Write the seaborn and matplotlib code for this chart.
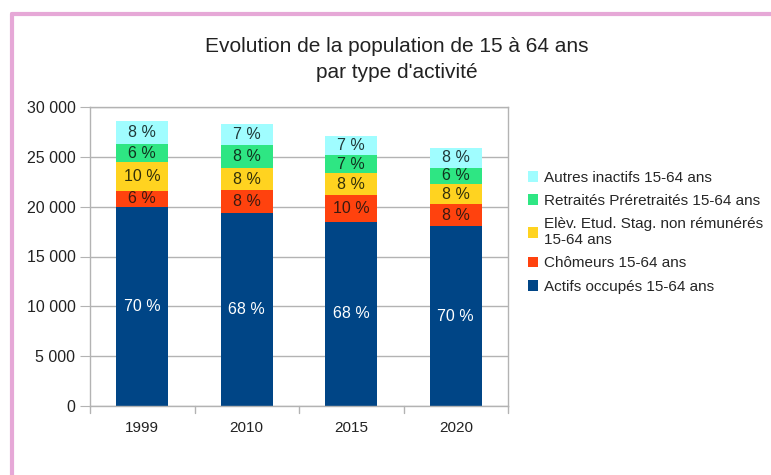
import numpy as np
import pandas as pd
import matplotlib.pyplot as plt
import seaborn as sns
from matplotlib.lines import Line2D
from matplotlib.patches import Patch
from matplotlib.ticker import FuncFormatter, MultipleLocator

# Données
annees = ["1999", "2010", "2015", "2020"]
actifs = [19950, 19400, 18500, 18060]
chomeurs = [1650, 2240, 2640, 2170]
eleves = [2880, 2240, 2200, 2080]
retraites = [1800, 2340, 1880, 1600]
autres = [2320, 2110, 1900, 2010]

series = [
    ("Actifs occupés 15-64 ans", actifs, "#004586", "white"),
    ("Chômeurs 15-64 ans", chomeurs, "#ff420e", "#3a1a10"),
    ("Elèv. Etud. Stag. non rémunérés\n15-64 ans", eleves, "#ffd320", "#33300a"),
    ("Retraités Préretraités 15-64 ans", retraites, "#2ee683", "#10331f"),
    ("Autres inactifs 15-64 ans", autres, "#a0fdff", "#203838"),
]

sns.set_style("white")
plt.rcParams["font.family"] = ["Liberation Sans", "DejaVu Sans"]

fig = plt.figure(figsize=(7.71, 4.75), dpi=100)
ax = fig.add_axes([90 / 771, 1 - 406 / 475, 418 / 771, 299 / 475])

total = np.sum([s[1] for s in series], axis=0)
bas = np.zeros(len(annees))
for nom, vals, couleur, coul_txt in series:
    df = pd.DataFrame({"annee": annees, "val": vals})
    sns.barplot(data=df, x="annee", y="val", color=couleur, width=0.5,
                bottom=bas, ax=ax, saturation=1, linewidth=0)
    cont = ax.containers[-1]
    etiquettes = [f"{round(v / t * 100)} %" for v, t in zip(vals, total)]
    ax.bar_label(cont, labels=etiquettes, label_type="center",
                 color=coul_txt, fontsize=11.5)
    bas = bas + np.array(vals)

ax.set_ylim(0, 30000)
ax.set_xlim(-0.5, 3.5)
ax.yaxis.set_major_locator(MultipleLocator(5000))
ax.yaxis.set_major_formatter(FuncFormatter(lambda v, p: f"{int(v):,}".replace(",", " ")))
ax.grid(axis="y", color="#b3b3b3", linewidth=1)
ax.set_axisbelow(True)
for sp in ax.spines.values():
    sp.set_color("#b3b3b3")
    sp.set_linewidth(1)
ax.set_xlabel("")
ax.set_ylabel("")
ax.set_xticks([0, 1, 2, 3])
ax.set_xticklabels(annees)
ax.tick_params(axis="x", length=0, labelsize=11, pad=11, colors="#222222")
ax.tick_params(axis="y", length=7, color="#b3b3b3", labelsize=11.5, labelcolor="#222222", left=True)
# graduations entre les catégories
for xb in [-0.5, 0.5, 1.5, 2.5, 3.5]:
    ax.plot([xb, xb], [0, -700], color="#b3b3b3", linewidth=1, clip_on=False)

fig.text(0.515, 1 - 47 / 475, "Evolution de la population de 15 à 64 ans",
         ha="center", va="center", fontsize=15, color="#222222")
fig.text(0.515, 1 - 72 / 475, "par type d'activité",
         ha="center", va="center", fontsize=15, color="#222222")

poignees = [Patch(facecolor=c, edgecolor="none", label=n) for n, v, c, t in reversed(series)]
fig.legend(handles=poignees, loc="upper left", bbox_to_anchor=(520 / 771, 1 - 163 / 475),
           frameon=False, fontsize=11, handlelength=0.7, handleheight=0.7,
           handletextpad=0.35, labelspacing=0.6, borderpad=0)

# bordure rose
fig.add_artist(Line2D([12 / 771, 1], [1 - 14 / 475, 1 - 14 / 475], color="#e6a8d7", linewidth=3))
fig.add_artist(Line2D([12 / 771, 12 / 771], [0, 1 - 14 / 475], color="#e6a8d7", linewidth=3))

fig.savefig("out.png", dpi=100)
